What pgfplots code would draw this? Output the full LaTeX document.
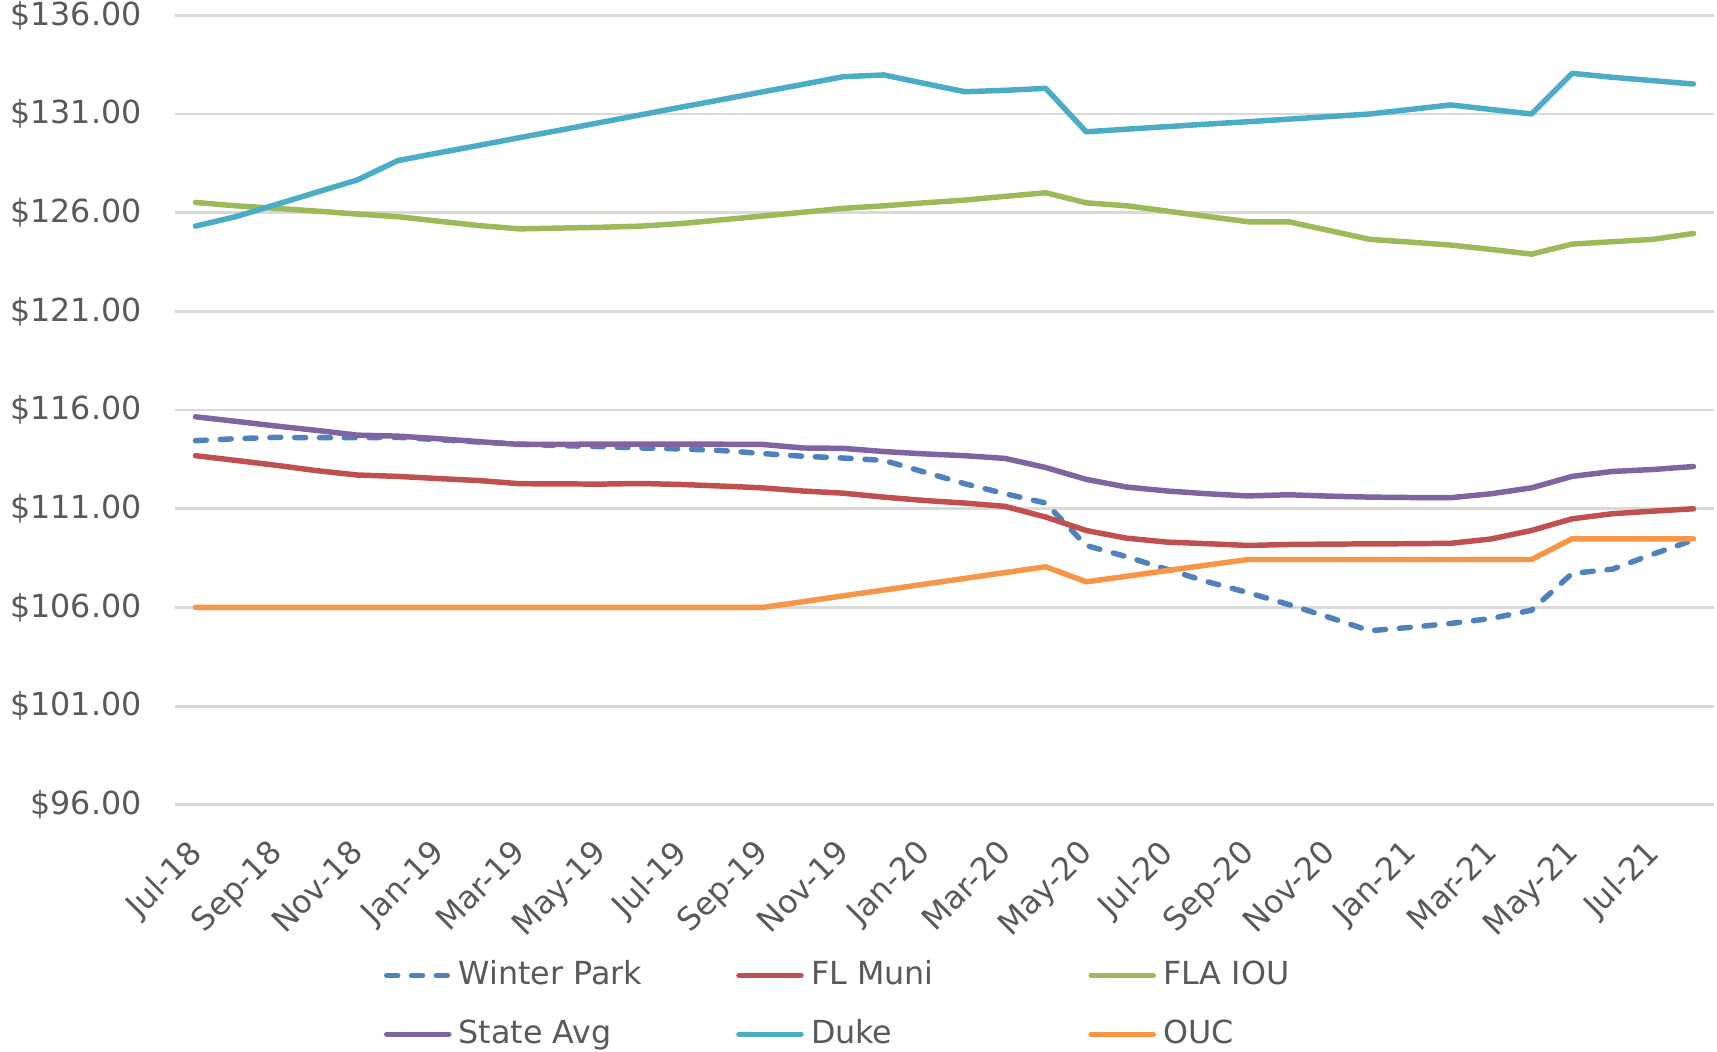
\documentclass[border=0pt]{standalone}
\usepackage{pgfplots}
\usepackage{pgfplotstable}
\pgfplotsset{compat=1.18}
\usepackage{fontspec}
\setmainfont{DejaVu Sans}
\definecolor{cwp}{HTML}{4F81BD}
\definecolor{cmuni}{HTML}{C0504D}
\definecolor{ciou}{HTML}{9BBB59}
\definecolor{cstate}{HTML}{8064A2}
\definecolor{cduke}{HTML}{4BACC6}
\definecolor{couc}{HTML}{F79646}
\definecolor{gridc}{HTML}{D9D9D9}
\definecolor{txt}{HTML}{595959}
\pgfplotstableread{
i  wp      muni    iou     state   duke    ouc
0  114.45  113.69  126.52  115.66  125.32  106.00
1  114.55  113.45  126.35  115.43  125.80  106.00
2  114.62  113.20  126.22  115.19  126.42  106.00
3  114.60  112.93  126.08  114.97  127.04  106.00
4  114.60  112.71  125.93  114.73  127.66  106.00
5  114.62  112.64  125.80  114.68  128.64  106.00
6  114.50  112.53  125.57  114.55  129.03  106.00
7  114.38  112.43  125.35  114.40  129.41  106.00
8  114.28  112.27  125.18  114.26  129.80  106.00
9  114.20  112.26  125.22  114.26  130.18  106.00
10 114.15  112.25  125.26  114.28  130.57  106.00
11 114.08  112.28  125.32  114.28  130.96  106.00
12 114.03  112.23  125.45  114.28  131.35  106.00
13 113.95  112.15  125.64  114.27  131.73  106.00
14 113.80  112.06  125.83  114.26  132.12  106.00
15 113.66  111.90  126.02  114.08  132.50  106.29
16 113.57  111.79  126.22  114.06  132.89  106.59
17 113.45  111.59  126.35  113.90  132.98  106.88
18 112.86  111.42  126.50  113.78  132.55  107.18
19 112.27  111.29  126.64  113.69  132.13  107.47
20 111.76  111.12  126.83  113.55  132.20  107.77
21 111.29  110.58  127.01  113.09  132.30  108.06
22 109.14  109.90  126.50  112.49  130.10  107.30
23 108.57  109.51  126.35  112.10  130.23  107.58
24 107.93  109.31  126.08  111.90  130.36  107.87
25 107.30  109.23  125.81  111.76  130.49  108.15
26 106.75  109.14  125.54  111.65  130.61  108.43
27 106.15  109.19  125.54  111.71  130.74  108.43
28 105.50  109.21  125.10  111.64  130.87  108.43
29 104.82  109.22  124.65  111.59  131.00  108.43
30 104.99  109.23  124.51  111.57  131.23  108.43
31 105.19  109.25  124.36  111.56  131.46  108.43
32 105.44  109.47  124.14  111.76  131.23  108.43
33 105.86  109.90  123.90  112.06  131.00  108.43
34 107.72  110.49  124.41  112.64  133.06  109.48
35 107.94  110.75  124.53  112.89  132.86  109.48
36 108.70  110.88  124.65  112.99  132.69  109.48
37 109.42  111.00  124.95  113.14  132.52  109.48
}\data
\begin{document}
\begin{tikzpicture}
\useasboundingbox (-48pt,-67.5pt) rectangle (422.4pt,220.5pt);
\begin{axis}[
  at={(0,0)}, anchor=south west, scale only axis,
  width=421.5pt, height=216.3pt,
  xmin=-0.5, xmax=37.5, ymin=96, ymax=136,
  ytick={96,101,106,111,116,121,126,131,136},
  yticklabels={\$96.00,\$101.00,\$106.00,\$111.00,\$116.00,\$121.00,\$126.00,\$131.00,\$136.00},
  xtick={0,2,...,36},
  xticklabels={Jul-18,Sep-18,Nov-18,Jan-19,Mar-19,May-19,Jul-19,Sep-19,Nov-19,Jan-20,Mar-20,May-20,Jul-20,Sep-20,Nov-20,Jan-21,Mar-21,May-21,Jul-21},
  ymajorgrids, grid style={draw=gridc, line width=0.75pt},
  axis line style={draw=none}, major tick style={draw=none},
  tick label style={font=\fontsize{8.7}{10}\selectfont, text=txt},
  xticklabel style={xshift=-2.5pt, yshift=-8.8pt, rotate=45, anchor=north east, inner sep=0pt},
  yticklabel style={anchor=east, inner sep=0pt, xshift=-9pt},
  legend columns=3,
  legend style={at={(0,0)}, anchor=north west, xshift=57pt, yshift=-40.5pt, draw=none, fill=none, inner sep=0pt, font=\fontsize{8.7}{10}\selectfont, text=txt, row sep=4pt},
  legend cell align=left,
  legend image code/.code={\draw[#1] (0pt,0pt) -- (17pt,0pt);},
  every axis plot/.append style={line width=1.5pt, line join=round, line cap=round},
]
\addplot[cwp, dash pattern=on 3pt off 3.8pt] table[x=i, y=wp] {\data};
\addlegendentry{\makebox[74pt][l]{Winter Park}}
\addplot[cmuni] table[x=i, y=muni] {\data};
\addlegendentry{\makebox[74pt][l]{FL Muni}}
\addplot[ciou] table[x=i, y=iou] {\data};
\addlegendentry{\makebox[74pt][l]{FLA IOU}}
\addplot[cstate] table[x=i, y=state] {\data};
\addlegendentry{\makebox[74pt][l]{State Avg}}
\addplot[cduke] table[x=i, y=duke] {\data};
\addlegendentry{\makebox[74pt][l]{Duke}}
\addplot[couc] table[x=i, y=ouc] {\data};
\addlegendentry{\makebox[74pt][l]{OUC}}
\end{axis}
\end{tikzpicture}
\end{document}
